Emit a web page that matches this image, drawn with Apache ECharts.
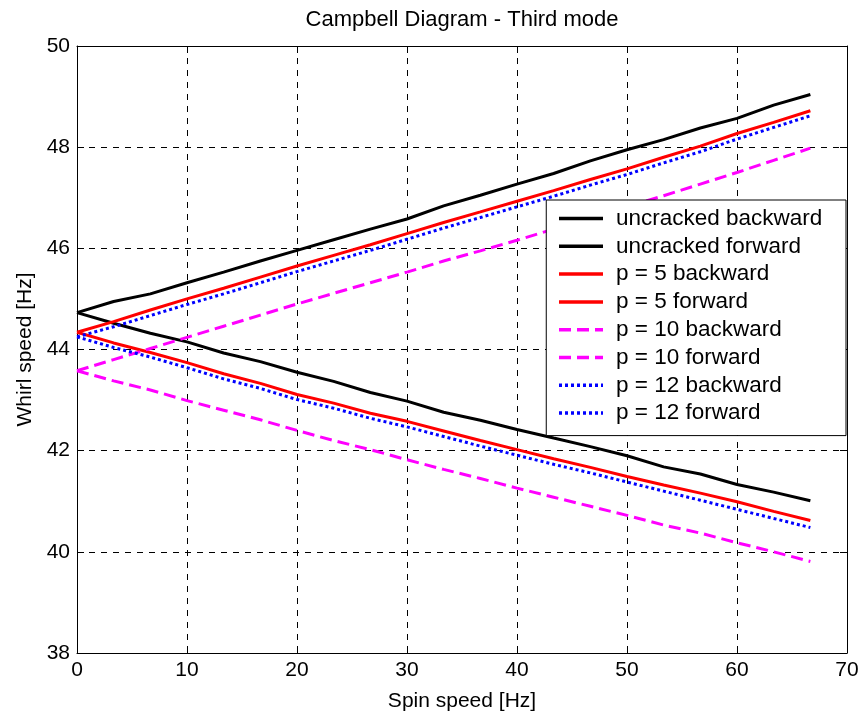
<!DOCTYPE html>
<html>
<head>
<meta charset="utf-8">
<script src="https://cdn.jsdelivr.net/npm/echarts@6/dist/echarts.min.js"></script>
<style>html,body{margin:0;padding:0;background:#fff;}#c{width:865px;height:719px;}</style>
</head>
<body>
<div id="c"></div>
<script>
const spinSpeed = [0, 3.33, 6.67, 10, 13.33, 16.67, 20, 23.33, 26.67, 30, 33.33, 36.67, 40, 43.33, 46.67, 50, 53.33, 56.67, 60, 63.33, 66.67];
const uncrackedBackward = [44.73, 44.95, 45.10, 45.32, 45.53, 45.75, 45.96, 46.17, 46.38, 46.58, 46.84, 47.05, 47.27, 47.48, 47.73, 47.95, 48.15, 48.38, 48.57, 48.83, 49.04];
const uncrackedForward = [44.73, 44.52, 44.32, 44.15, 43.93, 43.76, 43.55, 43.37, 43.15, 42.98, 42.76, 42.60, 42.42, 42.25, 42.08, 41.90, 41.68, 41.54, 41.33, 41.18, 41.01];
const p5Backward = [44.34, 44.55, 44.78, 45.00, 45.21, 45.43, 45.65, 45.86, 46.07, 46.29, 46.51, 46.72, 46.93, 47.14, 47.36, 47.57, 47.80, 48.02, 48.27, 48.49, 48.72];
const p5Forward = [44.34, 44.13, 43.94, 43.74, 43.52, 43.33, 43.11, 42.94, 42.74, 42.58, 42.39, 42.20, 42.02, 41.84, 41.67, 41.49, 41.32, 41.16, 40.99, 40.80, 40.62];
const p10Backward = [43.58, 43.80, 44.02, 44.24, 44.46, 44.68, 44.90, 45.11, 45.32, 45.53, 45.75, 45.95, 46.16, 46.38, 46.60, 46.82, 47.04, 47.27, 47.50, 47.74, 47.98];
const p10Forward = [43.58, 43.38, 43.20, 42.99, 42.80, 42.61, 42.40, 42.20, 42.02, 41.82, 41.63, 41.45, 41.26, 41.08, 40.90, 40.72, 40.53, 40.37, 40.18, 40.00, 39.81];
const p12Backward = [44.25, 44.45, 44.67, 44.89, 45.10, 45.32, 45.54, 45.75, 45.96, 46.18, 46.40, 46.61, 46.82, 47.03, 47.25, 47.46, 47.69, 47.91, 48.16, 48.39, 48.62];
const p12Forward = [44.25, 44.04, 43.85, 43.64, 43.42, 43.23, 43.01, 42.84, 42.64, 42.47, 42.28, 42.09, 41.91, 41.73, 41.56, 41.38, 41.20, 41.02, 40.84, 40.66, 40.48];

const seriesNames = ['uncracked backward', 'uncracked forward', 'p = 5 backward', 'p = 5 forward', 'p = 10 backward', 'p = 10 forward', 'p = 12 backward', 'p = 12 forward'];
const seriesValues = [uncrackedBackward, uncrackedForward, p5Backward, p5Forward, p10Backward, p10Forward, p12Backward, p12Forward];
const xTicks = {min: 0, max: 70, interval: 10};
const yTicks = {min: 38, max: 50, interval: 2};

const styles = [
  {color: '#000000', type: 'solid'},
  {color: '#000000', type: 'solid'},
  {color: '#ff0000', type: 'solid'},
  {color: '#ff0000', type: 'solid'},
  {color: '#ff00ff', type: [12, 6]},
  {color: '#ff00ff', type: [12, 6]},
  {color: '#0000ff', type: [3, 3]},
  {color: '#0000ff', type: [3, 3]}
];

const FONT = 'Liberation Sans, Arial, Helvetica, sans-serif';
const chart = echarts.init(document.getElementById('c'), null, {renderer: 'canvas'});

const series = seriesNames.map((name, i) => ({
  name: name,
  type: 'line',
  symbol: 'none',
  animation: false,
  data: spinSpeed.map((x, j) => [x, seriesValues[i][j]]),
  lineStyle: {color: styles[i].color, width: 3, type: styles[i].type},
  itemStyle: {color: styles[i].color}
}));

const axisCommon = {
  axisLine: {show: true, onZero: false, lineStyle: {color: '#000', width: 1}},
  axisTick: {show: true, inside: true, length: 7, lineStyle: {color: '#000', width: 1}},
};

chart.setOption({
  animation: false,
  backgroundColor: '#ffffff',
  title: {
    text: 'Campbell Diagram - Third mode',
    left: 462, top: 9, padding: 0, textAlign: 'center',
    textStyle: {fontFamily: FONT, fontSize: 22, fontWeight: 'normal', color: '#000'}
  },
  grid: {left: 77, right: 18, top: 46, bottom: 66, containLabel: false},
  legend: {
    data: seriesNames,
    orient: 'vertical',
    right: 19, top: 200,
    itemWidth: 44, itemHeight: 22, itemGap: 4.8,
    padding: [7, 18, 11, 11],
    backgroundColor: '#ffffff',
    borderColor: '#000', borderWidth: 1, borderRadius: 0,
    itemStyle: {opacity: 0},
    lineStyle: {width: 3.5},
    textStyle: {fontFamily: FONT, fontSize: 22.5, color: '#000', padding: [0, 0, 0, 8], width: 212, lineHeight: 22},
    selectedMode: false
  },
  xAxis: [
    Object.assign({
      type: 'value', min: xTicks.min, max: xTicks.max, interval: xTicks.interval,
      name: 'Spin speed [Hz]', nameLocation: 'middle', nameGap: 38,
      nameTextStyle: {fontFamily: FONT, fontSize: 21, color: '#000'},
      axisLabel: {fontFamily: FONT, fontSize: 21, color: '#000', margin: 7},
      splitLine: {show: true, lineStyle: {color: '#000', width: 1, type: [6, 6]}}
    }, axisCommon),
    Object.assign({
      type: 'value', position: 'top', min: xTicks.min, max: xTicks.max, interval: xTicks.interval,
      axisLabel: {show: false}, splitLine: {show: false}
    }, axisCommon)
  ],
  yAxis: [
    Object.assign({
      type: 'value', min: yTicks.min, max: yTicks.max, interval: yTicks.interval,
      name: 'Whirl speed [Hz]', nameLocation: 'middle', nameGap: 41,
      nameTextStyle: {fontFamily: FONT, fontSize: 21, color: '#000'},
      axisLabel: {fontFamily: FONT, fontSize: 21, color: '#000', margin: 7},
      splitLine: {show: true, lineStyle: {color: '#000', width: 1, type: [6, 6]}}
    }, axisCommon),
    Object.assign({
      type: 'value', position: 'right', min: yTicks.min, max: yTicks.max, interval: yTicks.interval,
      axisLabel: {show: false}, splitLine: {show: false}
    }, axisCommon)
  ],
  series: series
});
</script>
</body>
</html>
